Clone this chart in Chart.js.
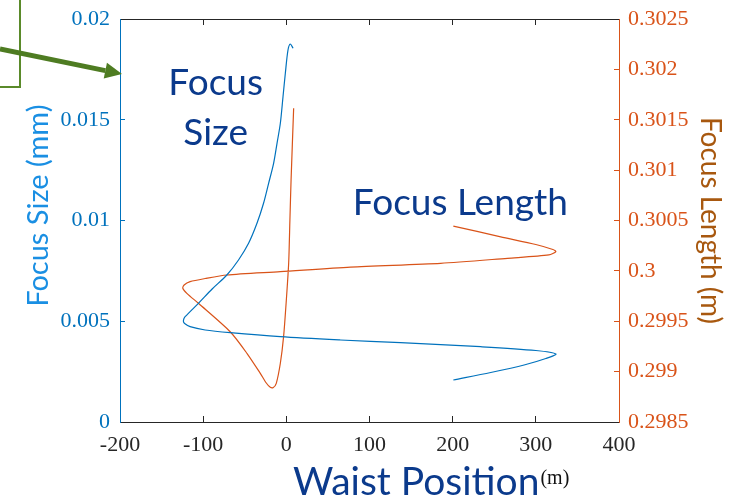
<!DOCTYPE html>
<html>
<head>
<meta charset="utf-8">
<script src="https://cdn.jsdelivr.net/npm/chart.js@4.4.1/dist/chart.umd.min.js"></script>
<style>
  html, body { margin: 0; padding: 0; background: #fff; }
  #wrap { width: 748px; height: 498px; position: relative; }
</style>
</head>
<body>
<div id="wrap"><canvas id="chart"></canvas></div>
<script>
// axis ticks
const xTicks = [-200, -100, 0, 100, 200, 300, 400];
const sizeTicks = [0, 0.005, 0.01, 0.015, 0.02];
const sizeTickLabels = ['0', '0.005', '0.01', '0.015', '0.02'];
const lengthTicks = [0.2985, 0.299, 0.2995, 0.3, 0.3005, 0.301, 0.3015, 0.302, 0.3025];
const lengthTickLabels = ['0.2985', '0.299', '0.2995', '0.3', '0.3005', '0.301', '0.3015', '0.302', '0.3025'];

// focus size (left axis) vs waist position
const sizeWaist = [200.8, 245.8, 285.9, 312, 324.1, 300, 233.7, 137.3, 65, -7.2, -67.5, -97.6, -115.7, -122.3,
  -123.7, -123.3, -121.7, -105.7, -89.2, -71.5, -57.5, -45.4, -35.3, -27.4, -21.3, -15.3, -11.2, -7.2, -4,
  -1.2, 2, 4.8, 8.1];
const focusSize = [0.002084, 0.002457, 0.002829, 0.003151, 0.003375, 0.003548, 0.003737, 0.003935, 0.00407,
  0.004233, 0.004432, 0.004566, 0.00473, 0.004888, 0.004978, 0.005112, 0.005226, 0.005891, 0.0066, 0.007295,
  0.00804, 0.008869, 0.009861, 0.010854, 0.011846, 0.012839, 0.013831, 0.014824, 0.016144, 0.017305,
  0.018462, 0.01876, 0.018546];

// focus length (right axis) vs waist position
const lengthWaist = [8.8, 5.7, 4.3, 2.8, 0, -3.3, -7.2, -12.1, -15.7, -19.3, -24.1, -31.3, -47.4, -67.5, -105.7,
  -119.6, -124.5, -122.9, -115.7, -97.6, -71.5, -7.2, 77.1, 185.5, 265.9, 315.7, 324.1, 320.5, 300, 257.8, 200.8];
const focusLength = [0.301614, 0.300902, 0.300505, 0.300075, 0.299711, 0.299347, 0.299083, 0.298884, 0.298842,
  0.298844, 0.298887, 0.298983, 0.299182, 0.299396, 0.299678, 0.299777, 0.299827, 0.29986, 0.299893, 0.299924,
  0.299959, 0.299992, 0.300038, 0.300075, 0.300125, 0.300158, 0.300192, 0.300212, 0.300262, 0.300338, 0.300445];

const BLUE = '#0072BD';
const ORANGE = '#D95319';
const NAVY = '#0b3a8c';
const SERIF = '"Liberation Serif", "Times New Roman", serif';
const SANS = 'Lato, "Open Sans", sans-serif';

const toPoints = (xs, ys) => xs.map((x, i) => ({ x, y: ys[i] }));
const fixTicks = values => scale => { scale.ticks = values.map(v => ({ value: v })); };

const annotations = {
  id: 'annotations',
  afterDraw(chart) {
    const { ctx, scales } = chart;
    const x = scales.x, yl = scales.y;
    ctx.save();
    ctx.fillStyle = NAVY;
    ctx.font = '37px ' + SANS;
    ctx.textBaseline = 'alphabetic';
    ctx.textAlign = 'center';
    ctx.fillText('Focus', x.getPixelForValue(-85), yl.getPixelForValue(0.01623));
    ctx.fillText('Size', x.getPixelForValue(-85), yl.getPixelForValue(0.01375));
    ctx.textAlign = 'left';
    ctx.fillText('Focus Length', x.getPixelForValue(80), yl.getPixelForValue(0.01027));

    // x title, with the unit set small in serif
    ctx.font = '39px ' + SANS;
    ctx.fillText('Waist Position', 293, 495);
    const w = ctx.measureText('Waist Position').width;
    ctx.fillStyle = '#111';
    ctx.font = '20px ' + SERIF;
    ctx.fillText('(m)', 293 + w + 1, 484);

    // green callout box + arrow
    ctx.strokeStyle = '#5a8a2a';
    ctx.lineWidth = 2;
    ctx.beginPath();
    ctx.moveTo(20, -2);
    ctx.lineTo(20, 87);
    ctx.lineTo(-2, 87);
    ctx.stroke();
    const tipX = 122, tipY = 74, sx = 0, sy = 49;
    const dx = tipX - sx, dy = tipY - sy, len = Math.hypot(dx, dy);
    const ux = dx / len, uy = dy / len;
    const hl = 17, hw = 8;
    ctx.strokeStyle = '#4e7c22';
    ctx.lineWidth = 5;
    ctx.beginPath();
    ctx.moveTo(sx, sy);
    ctx.lineTo(tipX - ux * hl, tipY - uy * hl);
    ctx.stroke();
    ctx.fillStyle = '#4e7c22';
    ctx.beginPath();
    ctx.moveTo(tipX, tipY);
    ctx.lineTo(tipX - ux * hl - uy * hw, tipY - uy * hl + ux * hw);
    ctx.lineTo(tipX - ux * hl + uy * hw, tipY - uy * hl - ux * hw);
    ctx.closePath();
    ctx.fill();
    ctx.restore();
  }
};

new Chart(document.getElementById('chart'), {
  type: 'scatter',
  data: {
    datasets: [
      {
        label: 'Focus Size',
        data: toPoints(sizeWaist, focusSize),
        showLine: true, pointRadius: 0, borderColor: BLUE, borderWidth: 1.2, tension: 0.3,
        xAxisID: 'x', yAxisID: 'y',
      },
      {
        label: 'Focus Length',
        data: toPoints(lengthWaist, focusLength),
        showLine: true, pointRadius: 0, borderColor: ORANGE, borderWidth: 1.2, tension: 0.25,
        xAxisID: 'x', yAxisID: 'y1',
      },
    ],
  },
  options: {
    responsive: true,
    maintainAspectRatio: false,
    animation: false,
    layout: { padding: { top: 19, left: 0, right: 0, bottom: 0 } },
    plugins: { legend: { display: false }, tooltip: { enabled: false } },
    scales: {
      x: {
        type: 'linear', position: 'bottom', min: -200, max: 400,
        afterBuildTicks: fixTicks(xTicks),
        afterFit: s => { s.height = 76; },
        border: { color: '#262626', width: 1 },
        grid: { drawOnChartArea: false, tickLength: -6, tickColor: '#262626' },
        ticks: { color: '#262626', padding: 16, maxRotation: 0, font: { family: SERIF, size: 22 } },
      },
      x2: {
        type: 'linear', position: 'top', min: -200, max: 400,
        afterBuildTicks: fixTicks(xTicks),
        afterFit: s => { s.height = 0; },
        border: { color: '#262626', width: 1 },
        grid: { drawOnChartArea: false, tickLength: -6, tickColor: '#262626' },
        ticks: { display: false },
      },
      y: {
        type: 'linear', position: 'left', min: 0, max: 0.02,
        afterBuildTicks: fixTicks(sizeTicks),
        afterFit: s => { s.width = 120; s.paddingTop = 0; s.paddingBottom = 0; },
        border: { color: BLUE, width: 1 },
        grid: { drawOnChartArea: false, tickLength: -5, tickColor: BLUE },
        ticks: {
          color: BLUE, padding: 15, font: { family: SERIF, size: 22 },
          callback: (v, i) => sizeTickLabels[i],
        },
        title: {
          display: true, text: '    Focus Size (mm)', color: '#1a8fe3',
          font: { family: SANS, size: 29 }, padding: { top: 21, bottom: 0 },
        },
      },
      y1: {
        type: 'linear', position: 'right', min: 0.2985, max: 0.3025,
        afterBuildTicks: fixTicks(lengthTicks),
        afterFit: s => { s.width = 129; s.paddingTop = 0; s.paddingBottom = 0; },
        border: { color: ORANGE, width: 1 },
        grid: { drawOnChartArea: false, tickLength: -5, tickColor: ORANGE },
        ticks: {
          color: ORANGE, padding: 14, font: { family: SERIF, size: 22 },
          callback: (v, i) => lengthTickLabels[i],
        },
        title: {
          display: true, text: 'Focus Length (m)', color: '#a8580f',
          font: { family: SANS, size: 28 }, padding: { top: 21, bottom: 0 },
        },
      },
    },
  },
  plugins: [annotations],
});
</script>
</body>
</html>
